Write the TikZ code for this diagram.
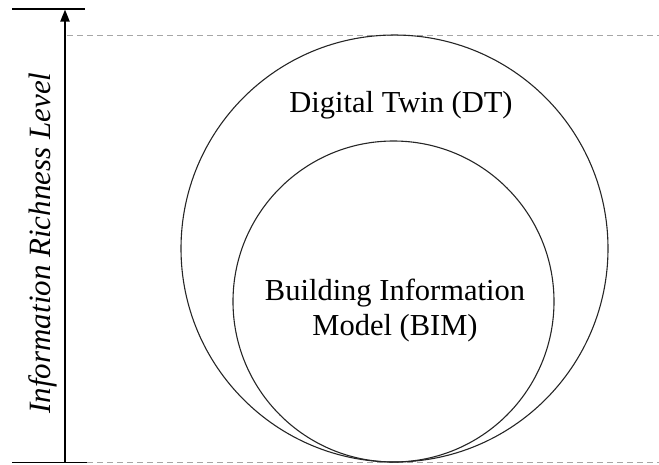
\documentclass[tikz,border=0pt]{standalone}
\usepackage{fontspec}
\setmainfont{Liberation Serif}
\usetikzlibrary{arrows.meta}
\begin{document}
\begin{tikzpicture}[x=1pt,y=-1pt,
  ring/.style={draw=black!85,line width=1.1pt},
  rule/.style={draw=black,line width=1.2pt},
  guide/.style={draw=black!35,line width=0.8pt,dash pattern=on 6pt off 4pt},
  label/.style={font=\fontsize{30.5}{35}\selectfont,align=center,inner sep=0pt}]
  \useasboundingbox (0,0) rectangle (659,464);
  % level markers
  \coordinate (topL) at (12,9);
  \coordinate (topR) at (85,9);
  \coordinate (botL) at (12,462.5);
  \coordinate (botR) at (87,462.5);
  \coordinate (axisB) at (65,462.5);
  \coordinate (axisT) at (65,9.5);
  \coordinate (dtopA) at (67,35);
  \coordinate (dtopB) at (659,35);
  \coordinate (dbotB) at (659,462.5);
  \draw[rule] (topL) -- (topR);
  \draw[rule] (botL) -- (botR);
  \draw[guide] (dtopA) -- (dtopB);
  \draw[guide] (botR) -- (dbotB);
  % axis arrow
  \draw[line width=2pt,-{Triangle[length=12pt,width=9pt]}] (axisB) -- (axisT);
  \node[label,font=\fontsize{31}{35}\selectfont\itshape,rotate=90,anchor=base] (axlab) at (50,243) {Information Richness Level};
  % nested circles
  \node[ring,circle,minimum size=427pt,inner sep=0pt] (dt) at (394.5,248.5) {};
  \node[ring,circle,minimum size=321pt,inner sep=0pt] (bim) at (393.5,301.5) {};
  \node[label] (dtlab) at (401,105) {Digital Twin (DT)};
  \node[label] (bimlab) at (395,311) {Building Information\\Model (BIM)};
\end{tikzpicture}
\end{document}
